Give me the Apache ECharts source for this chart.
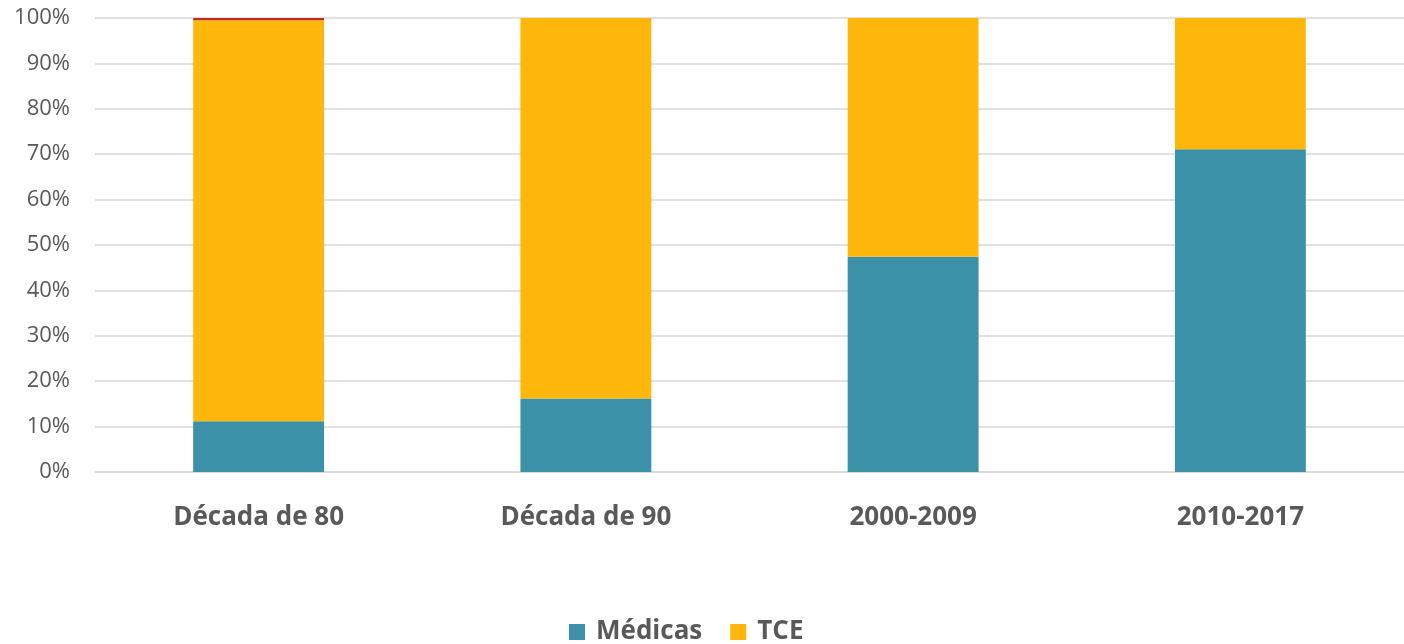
<!DOCTYPE html>
<html>
<head>
<meta charset="utf-8">
<script src="https://cdn.jsdelivr.net/npm/echarts@6/dist/echarts.min.js"></script>
<style>
  html, body { margin: 0; padding: 0; background: #fff; }
  #chart { width: 1404px; height: 644px; }
</style>
</head>
<body>
<div id="chart"></div>
<script>
// categorías y porcentajes
var categories = ['Década de 80', 'Década de 90', '2000-2009', '2010-2017'];
var medicas = [11.2, 16.2, 47.4, 71.1];
var tce = [88.3, 83.8, 52.6, 28.9];
var outras = [0.5, 0, 0, 0];
var yTicks = [0, 10, 20, 30, 40, 50, 60, 70, 80, 90, 100];

var font = '"Open Sans", "DejaVu Sans", sans-serif';
var chart = echarts.init(document.getElementById('chart'));

var option = {
    animation: false,
    grid: { left: 95, right: 0, top: 18, bottom: 172 },
    legend: {
        data: ['Médicas', 'TCE'],
        left: 564,
        top: 614,
        itemWidth: 16,
        itemHeight: 16,
        itemGap: 28,
        icon: 'rect',
        textStyle: { fontFamily: font, fontSize: 26, fontWeight: 'bold', color: '#595959', padding: [0, 0, 0, 6] }
    },
    xAxis: {
        type: 'category',
        data: categories,
        axisLine: { lineStyle: { color: '#d9d9d9', width: 1.5 } },
        axisTick: { show: false },
        axisLabel: { fontFamily: font, fontSize: 26, fontWeight: 'bold', color: '#595959', margin: 33 }
    },
    yAxis: {
        type: 'value',
        min: yTicks[0],
        max: yTicks[yTicks.length - 1],
        interval: 10,
        axisLine: { show: false },
        axisTick: { show: false },
        splitLine: { lineStyle: { color: '#d9d9d9', width: 1.5 } },
        axisLabel: { fontFamily: font, fontSize: 22, color: '#595959', margin: 25, formatter: '{value}%' }
    },
    series: [
        {
            name: 'Médicas', type: 'bar', stack: 'total', barWidth: '40%',
            itemStyle: { color: '#3a91a8' },
            data: medicas
        },
        {
            name: 'TCE', type: 'bar', stack: 'total',
            itemStyle: { color: '#ffb70c' },
            data: tce
        },
        {
            name: 'Outras', type: 'bar', stack: 'total',
            itemStyle: { color: '#c62828' },
            data: outras
        }
    ]
};

chart.setOption(option);
</script>
</body>
</html>
